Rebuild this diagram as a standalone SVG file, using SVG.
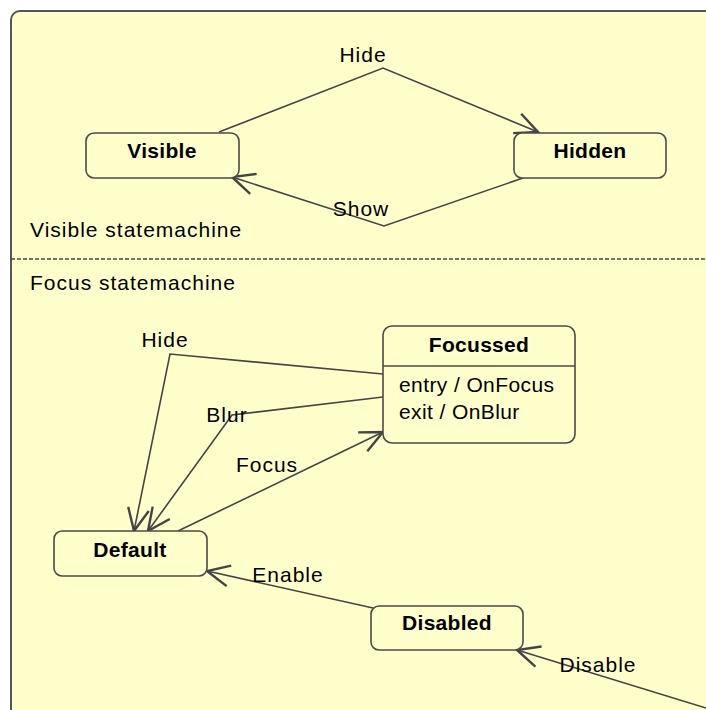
<svg xmlns="http://www.w3.org/2000/svg" width="706" height="710" viewBox="0 0 706 710">
  <defs>
    <style>
      .frame { fill: #ffffcc; stroke: #555555; stroke-width: 2; }
      .divider { stroke: #444444; stroke-width: 1.3; stroke-dasharray: 4 2; fill: none; }
      .state { fill: #ffffcc; stroke: #4a4a4a; stroke-width: 1.6; }
      .sep { stroke: #4a4a4a; stroke-width: 1.6; }
      .edge { fill: none; stroke: #444444; stroke-width: 1.6; }
      .name { font-family: "Liberation Sans", Arial, sans-serif; font-size: 21px; font-weight: bold; fill: #000; text-anchor: middle; letter-spacing: 0.3px; }
      .txt { font-family: "Liberation Sans", Arial, sans-serif; font-size: 21px; fill: #000; letter-spacing: 1px; }
      .act { font-family: "Liberation Sans", Arial, sans-serif; font-size: 21px; fill: #000; letter-spacing: 0.4px; }
      .lbl { font-family: "Liberation Sans", Arial, sans-serif; font-size: 21px; fill: #000; text-anchor: middle; letter-spacing: 1px; }
    </style>
    <marker id="open" markerUnits="userSpaceOnUse" markerWidth="30" markerHeight="30" refX="0" refY="0" viewBox="-16 -10 20 20" orient="auto" overflow="visible">
      <path d="M -15 -7 L 0 0 L -15 7" fill="none" stroke="#444444" stroke-width="1.6"/>
    </marker>
  </defs>

  <rect width="706" height="710" fill="#ffffff"/>

  <!-- outer state machine frame (continues past the right and bottom edges) -->
  <rect class="frame" x="11" y="11" width="740" height="740" rx="9" ry="9"/>
  <line class="divider" x1="11" y1="259" x2="706" y2="259"/>

  <text class="txt" x="30" y="237">Visible statemachine</text>
  <text class="txt" x="30" y="290">Focus statemachine</text>

  <!-- transitions -->
  <g id="connectors">
    <path class="edge" d="M 219 132 L 383 68 L 538 132" marker-end="url(#open)"/>
    <path class="edge" d="M 523 178 L 384 226 L 232 177" marker-end="url(#open)"/>
    <path class="edge" d="M 383 374 L 170 354 L 134 531" marker-end="url(#open)"/>
    <path class="edge" d="M 383 397 L 232 415 L 148 531" marker-end="url(#open)"/>
    <path class="edge" d="M 178 531 L 383 432" marker-end="url(#open)"/>
    <path class="edge" d="M 373 608 L 207 571" marker-end="url(#open)"/>
    <path class="edge" d="M 706 708 L 517 650" marker-end="url(#open)"/>

    <text class="lbl" x="363" y="62">Hide</text>
    <text class="lbl" x="361" y="216">Show</text>
    <text class="lbl" x="165" y="347">Hide</text>
    <text class="lbl" x="227" y="422">Blur</text>
    <text class="lbl" x="267" y="472">Focus</text>
    <text class="lbl" x="288" y="582">Enable</text>
    <text class="lbl" x="598" y="672">Disable</text>
  </g>

  <!-- states -->
  <g id="visible">
    <rect class="state" x="86" y="133" width="153" height="45" rx="8" ry="8"/>
    <text class="name" x="162" y="158">Visible</text>
  </g>
  <g id="hidden">
    <rect class="state" x="514" y="133" width="152" height="45" rx="8" ry="8"/>
    <text class="name" x="590" y="158">Hidden</text>
  </g>
  <g id="focussed">
    <rect class="state" x="383" y="326" width="192" height="117" rx="9" ry="9"/>
    <line class="sep" x1="383" y1="366" x2="575" y2="366"/>
    <text class="name" x="479" y="352">Focussed</text>
    <text class="act" x="399" y="392">entry / OnFocus</text>
    <text class="act" x="399" y="419">exit / OnBlur</text>
  </g>
  <g id="default">
    <rect class="state" x="54" y="531" width="153" height="45" rx="8" ry="8"/>
    <text class="name" x="130" y="557">Default</text>
  </g>
  <g id="disabled">
    <rect class="state" x="371" y="606" width="152" height="44" rx="8" ry="8"/>
    <text class="name" x="447" y="630">Disabled</text>
  </g>
</svg>
